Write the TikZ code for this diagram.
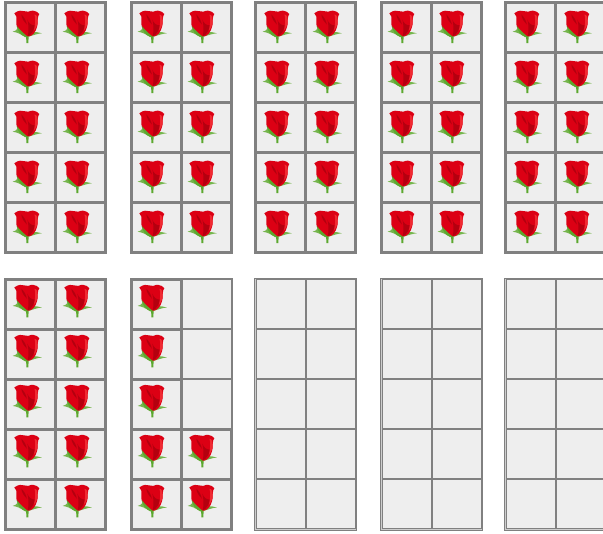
\documentclass[tikz,border=0pt]{standalone}
\definecolor{cellgray}{HTML}{EEEEEE}
\definecolor{linegray}{HTML}{808080}
\definecolor{rosered}{HTML}{DC0014}
\definecolor{rosedark}{HTML}{B4000F}
\definecolor{roselight}{HTML}{F02A32}
\definecolor{leafgreen}{HTML}{5CA82E}
\tikzset{
  emptycell/.style={draw=linegray, fill=cellgray, line width=1pt, minimum size=49pt, inner sep=0pt, outer sep=0pt},
  rosecell/.style={draw=linegray, fill=cellgray, line width=2.6pt, minimum size=50pt, inner sep=0pt, outer sep=0pt},
  framebox/.style={draw=linegray, fill=cellgray!70!linegray, line width=0.9pt},
  rose/.pic={
    % leaves and stem
    \fill[leafgreen] (-4.2,8) -- (-3.9,15.8) -- (-2,15.8) -- (-1.6,8) -- cycle;
    \fill[leafgreen!85!white] (-17.6,4.3) .. controls (-15,3.8) and (-14,2.8) .. (-13,1.5) -- (-7,8.5) .. controls (-10,6.5) and (-13,5) .. (-17.6,4.3) -- cycle;
    \fill[leafgreen!85!white] (11.6,5.9) .. controls (8,5) and (6,4.5) .. (3,4.5) -- (-2,9.3) .. controls (3,8) and (7,6.2) .. (11.6,5.9) -- cycle;
    % flower head
    \fill[rosered] (-16,-14.1) .. controls (-14,-15.5) and (-12,-16.8) .. (-10.3,-16.7)
      .. controls (-7,-16.8) and (-4,-15.5) .. (-2,-15.7)
      .. controls (0,-16.5) and (1.5,-17) .. (3,-16.7)
      .. controls (5.5,-16.5) and (8,-15) .. (9,-13.4)
      .. controls (7.8,-12) and (7.6,-10) .. (7.4,-7.4)
      .. controls (7.6,-4) and (7.2,-2) .. (6.8,-0.7)
      .. controls (6,2) and (5,4.5) .. (3.4,6.2)
      .. controls (1.8,8) and (0,8.8) .. (-1,9)
      -- (-5.3,9)
      .. controls (-8,7.5) and (-9.5,5.5) .. (-10.3,4.3)
      .. controls (-12.5,1) and (-13.8,-1) .. (-13.8,-2.4)
      .. controls (-14,-6) and (-14,-9) .. (-13.8,-10.7)
      .. controls (-14.5,-12) and (-15,-13.2) .. (-16,-14.1) -- cycle;
    % petal shading
    \fill[rosedark] (-2.5,9) .. controls (-1.5,3) and (-1.5,-3) .. (-3,-8) .. controls (-1.5,-4) and (1,-2) .. (4.5,-2) .. controls (4,2) and (1.5,7) .. (-2.5,9) -- cycle;
    \fill[roselight] (4.2,-13) .. controls (7.8,-12) and (7.4,-8) .. (7.2,-4) .. controls (6.4,-1) and (5.4,1.5) .. (3.8,3) .. controls (5.2,-4) and (5.2,-9) .. (4.2,-13) -- cycle;
    \fill[rosedark] (-9,-13) .. controls (-6.5,-10.5) and (-4,-7) .. (-3.5,-3) .. controls (-6,-5.5) and (-8.5,-8.5) .. (-9,-13) -- cycle;
    % sepal over the head
    \fill[leafgreen] (-13.6,-1.5) .. controls (-13.6,3) and (-9,8) .. (-5,9.8) -- (-2,9.8) .. controls (-6,6.5) and (-10,3) .. (-13.6,-1.5) -- cycle;
  }
}
\begin{document}
\begin{tikzpicture}[x=1pt,y=-1pt]
  \clip (0,0) rectangle (603,534);
  % all ten frames, empty cells first
  \foreach \gx/\gy/\gname in {5.3/2.4/a,131.5/2.4/b,255.5/2.4/c,381.5/2.4/d,505.5/2.4/e,5.3/279.4/f,131.5/279.4/g,255.5/279.4/h,381.5/279.4/i,505.5/279.4/j} {
    \path[framebox] (\gx-1.3,\gy-1.3) rectangle ++(102.6,252.6);
    \foreach \col in {0,1}
      \foreach \row in {0,...,4}
        \node[emptycell] (\gname\col\row) at (\gx+25+50*\col,\gy+25+50*\row) {};
  }
  % cells that hold a rose
  \foreach \gx/\gy/\rx/\ry in {5.3/2.4/5.3/2.4,131.5/2.4/130.3/2.4,255.5/2.4/255.3/2.4,381.5/2.4/380.3/2.4,505.5/2.4/505.3/2.4,5.3/279.4/5.3/276.6} {
    \foreach \col in {0,1}
      \foreach \row in {0,...,4} {
        \node[rosecell] (rosecell\gx\col\row) at (\gx+25+50*\col,\gy+25+50*\row) {};
      }
    \foreach \col in {0,1}
      \foreach \row in {0,...,4}
        \pic at (\rx+25+50*\col,\ry+25+50*\row) {rose};
  }
  \foreach \col/\row in {0/0,0/1,0/2,0/3,0/4,1/3,1/4}
    \node[rosecell] (part\col\row) at (131.5+25+50*\col,279.4+25+50*\row) {};
  \foreach \col/\row in {0/0,0/1,0/2,0/3,0/4,1/3,1/4}
    \pic at (130.3+25+50*\col,276.6+25+50*\row) {rose};
\end{tikzpicture}
\end{document}
